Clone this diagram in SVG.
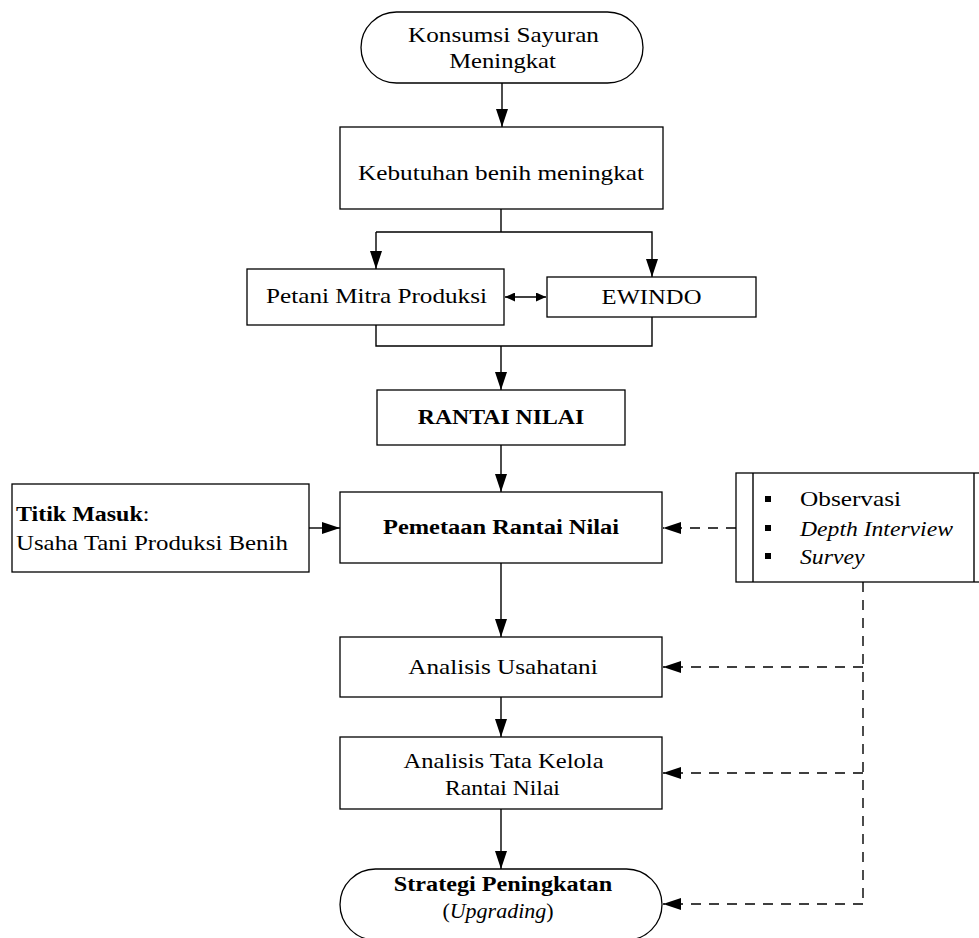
<svg xmlns="http://www.w3.org/2000/svg" width="979" height="938" viewBox="0 0 979 938">
<style>
.box{fill:#fff;stroke:#000;stroke-width:1.3}
.ln{fill:none;stroke:#000;stroke-width:1.4}
.dl{fill:none;stroke:#000;stroke-width:1.4;stroke-dasharray:10 8}
text{font-family:"Liberation Serif","Times New Roman",serif;font-size:22px;fill:#000}
.c{text-anchor:middle}
.b{font-weight:bold}
.i{font-style:italic}
</style>
<defs>
<marker id="ah" markerUnits="userSpaceOnUse" markerWidth="19" markerHeight="12" refX="18" refY="6" orient="auto">
<path d="M0,0 L18,6 L0,12 z" fill="#000"/>
</marker>
<marker id="as" markerUnits="userSpaceOnUse" markerWidth="11" markerHeight="9" refX="10" refY="4.5" orient="auto-start-reverse">
<path d="M0,0 L10,4.5 L0,9 z" fill="#000"/>
</marker>
</defs>
<rect width="979" height="938" fill="#fff"/>
<g id="connectors">
<line class="ln" x1="502" y1="83" x2="502" y2="127" marker-end="url(#ah)"/>
<polyline class="ln" points="501,209 501,232"/>
<polyline class="ln" points="376,232 652,232 652,277" marker-end="url(#ah)"/>
<line class="ln" x1="376" y1="232" x2="376" y2="269" marker-end="url(#ah)"/>
<line class="ln" x1="505" y1="297" x2="546" y2="297" marker-start="url(#as)" marker-end="url(#as)"/>
<polyline class="ln" points="376,325 376,346 652,346 652,317"/>
<line class="ln" x1="501" y1="346" x2="501" y2="390" marker-end="url(#ah)"/>
<line class="ln" x1="501" y1="445" x2="501" y2="492" marker-end="url(#ah)"/>
<line class="ln" x1="309" y1="528" x2="340" y2="528" marker-end="url(#ah)"/>
<line class="ln" x1="501" y1="563" x2="501" y2="637" marker-end="url(#ah)"/>
<line class="ln" x1="501" y1="697" x2="501" y2="737" marker-end="url(#ah)"/>
<line class="ln" x1="501" y1="809" x2="501" y2="869" marker-end="url(#ah)"/>
<line class="dl" x1="736" y1="528" x2="663" y2="528" marker-end="url(#ah)"/>
<line class="dl" x1="863" y1="582" x2="863" y2="904"/>
<line class="dl" x1="863" y1="667" x2="663" y2="667" marker-end="url(#ah)"/>
<line class="dl" x1="863" y1="773" x2="663" y2="773" marker-end="url(#ah)"/>
<line class="dl" x1="863" y1="904" x2="663" y2="904" marker-end="url(#ah)"/>
</g>
<g id="konsumsi">
<rect class="box" x="361" y="12" width="282" height="71" rx="35.5" ry="35.5"/>
<text class="c" transform="translate(503.5,42) scale(1.145,1)">Konsumsi Sayuran</text>
<text class="c" transform="translate(502.5,68) scale(1.12,1)">Meningkat</text>
</g>
<g id="kebutuhan">
<rect class="box" x="340" y="127" width="323" height="82"/>
<text class="c" transform="translate(501,180) scale(1.148,1)">Kebutuhan benih meningkat</text>
</g>
<g id="petani">
<rect class="box" x="247" y="269" width="257" height="56"/>
<text class="c" transform="translate(376.5,303) scale(1.145,1)">Petani Mitra Produksi</text>
</g>
<g id="ewindo">
<rect class="box" x="547" y="277" width="209" height="40"/>
<text class="c" transform="translate(651.5,304) scale(1.12,1)">EWINDO</text>
</g>
<g id="rantai">
<rect class="box" x="377" y="390" width="248" height="55"/>
<text class="c b" transform="translate(501,424) scale(1.08,1)">RANTAI NILAI</text>
</g>
<g id="titik">
<rect class="box" x="12" y="484" width="297" height="88"/>
<text transform="translate(16,521) scale(1.09,1)"><tspan class="b">Titik Masuk</tspan>:</text>
<text transform="translate(16,550) scale(1.13,1)">Usaha Tani Produksi Benih</text>
</g>
<g id="pemetaan">
<rect class="box" x="340" y="492" width="322" height="71"/>
<text class="c b" transform="translate(501,534) scale(1.11,1)">Pemetaan Rantai Nilai</text>
</g>
<g id="metode">
<rect class="box" x="736" y="473" width="260" height="109"/>
<line class="ln" x1="753" y1="473" x2="753" y2="582"/>
<line class="ln" x1="974" y1="473" x2="974" y2="582"/>
<rect x="765" y="496" width="6" height="6" fill="#000"/>
<rect x="765" y="525" width="6" height="6" fill="#000"/>
<rect x="765" y="553" width="6" height="6" fill="#000"/>
<text transform="translate(800,506) scale(1.15,1)">Observasi</text>
<text class="i" transform="translate(800,536) scale(1.075,1)">Depth Interview</text>
<text class="i" transform="translate(800,564) scale(1.08,1)">Survey</text>
</g>
<g id="usahatani">
<rect class="box" x="340" y="637" width="322" height="60"/>
<text class="c" transform="translate(503,674) scale(1.145,1)">Analisis Usahatani</text>
</g>
<g id="tatakelola">
<rect class="box" x="340" y="737" width="322" height="72"/>
<text class="c" transform="translate(503.5,768) scale(1.12,1)">Analisis Tata Kelola</text>
<text class="c" transform="translate(502.5,795) scale(1.075,1)">Rantai Nilai</text>
</g>
<g id="strategi">
<rect class="box" x="340" y="869" width="322" height="71" rx="35.5" ry="35.5"/>
<text class="c b" transform="translate(503,891) scale(1.1,1)">Strategi Peningkatan</text>
<text class="c" transform="translate(498,918) scale(1.0,1)">(<tspan class="i">Upgrading</tspan>)</text>
</g>
</svg>
